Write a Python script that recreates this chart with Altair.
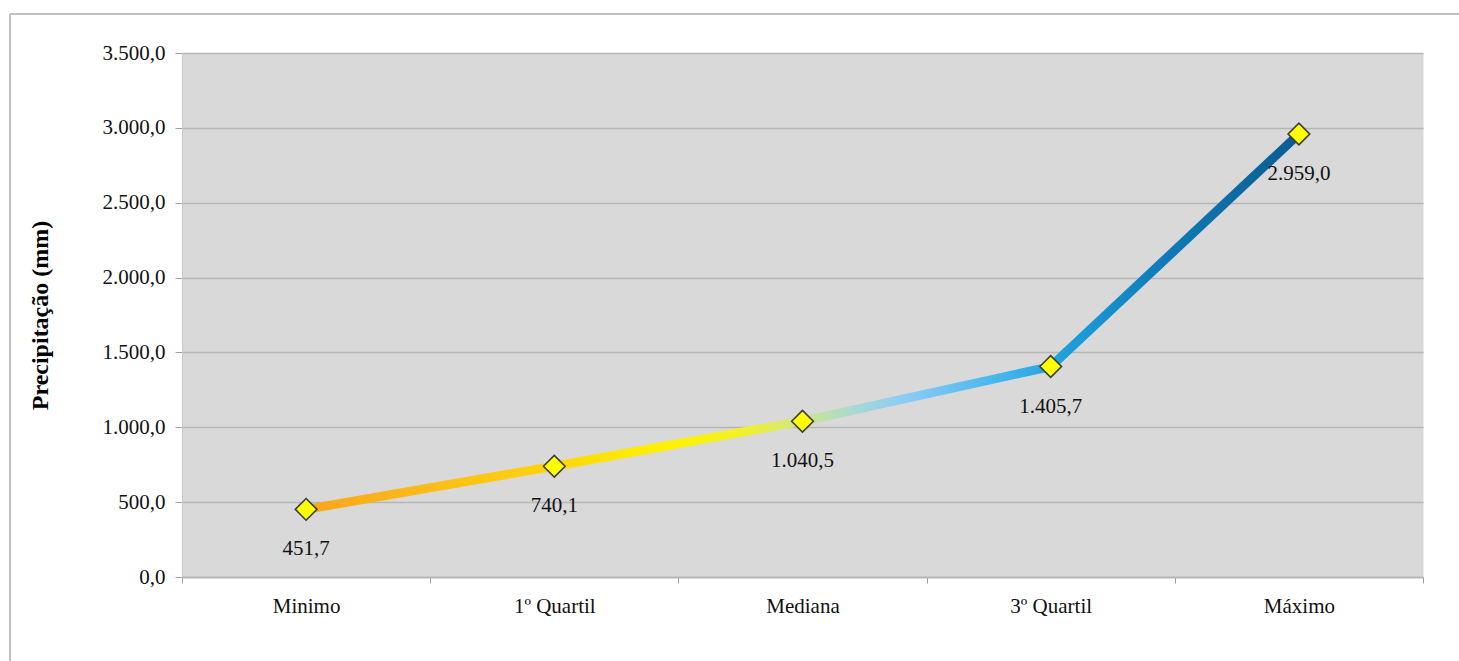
import altair as alt
import pandas as pd

categories = ["Minimo", "1º Quartil", "Mediana", "3º Quartil", "Máximo"]
values = [451.7, 740.1, 1040.5, 1405.7, 2959.0]
y_ticks = [0, 500, 1000, 1500, 2000, 2500, 3000, 3500]
y_tick_labels = ["0,0", "500,0", "1.000,0", "1.500,0", "2.000,0", "2.500,0", "3.000,0", "3.500,0"]

grad_offsets = [0.0, 0.12, 0.25, 0.36, 0.44, 0.50, 0.55, 0.60, 0.70, 0.76, 0.85, 1.0]
grad_colors = ["#f9a51c", "#fcbb1a", "#ffd60a", "#fff200", "#f2f02a", "#cfe68a", "#a9d9d2",
               "#8ccdf6", "#45b5ec", "#1ea2de", "#0f7fbb", "#0a5c91"]


def br(v):
    s = f"{v:,.1f}"
    return s.replace(",", "_").replace(".", ",").replace("_", ".")


df = pd.DataFrame({"cat": categories, "val": values, "lab": [br(v) for v in values]})

FONT = "Liberation Serif"
label_expr = "[" + ",".join(f"'{t}'" for t in y_tick_labels) + "][round(datum.value/500)]"

x_enc = alt.X(
    "cat:N",
    sort=categories,
    bandPosition=0.5,
    scale=alt.Scale(type="band", paddingInner=0, paddingOuter=0),
    axis=alt.Axis(
        title=None, labelAngle=0, tickBand="extent", tickColor="#a0a0a0", tickSize=6,
        domainColor="#b4b4b4", domainWidth=1.5, labelFont=FONT, labelFontSize=21,
        labelColor="#111111", labelPadding=12, grid=False,
    ),
)
y_enc = alt.Y(
    "val:Q",
    scale=alt.Scale(domain=[0, 3500], nice=False),
    axis=alt.Axis(
        values=y_ticks, labelExpr=label_expr, title="Precipitação (mm)",
        titleFont=FONT, titleFontWeight="bold", titleFontSize=24, titleColor="#000000",
        titleAngle=270, titleX=-142, titleY=262, titleAlign="center", titleBaseline="middle",
        grid=True, gridColor="#b6b6b6", gridWidth=1.6, tickColor="#a0a0a0", tickSize=7,
        labelPadding=10, labelFont=FONT, labelFontSize=21, labelColor="#111111",
        domainColor="#c8c8c8", domainWidth=1,
    ),
)

base = alt.Chart(df)

line = base.mark_line(
    strokeWidth=9,
    color=alt.Gradient(
        gradient="linear",
        stops=[alt.GradientStop(offset=o, color=c) for o, c in zip(grad_offsets, grad_colors)],
        x1=0, x2=1, y1=0, y2=0,
    ),
).encode(x=x_enc, y=y_enc)

points = base.mark_point(
    shape="diamond", filled=True, fill="#ffff00", stroke="#3c3c3c", strokeWidth=1.6,
    size=470, opacity=1,
).encode(x=x_enc, y=y_enc)

texts = base.mark_text(
    dy=40, font=FONT, fontSize=21, color="#111111", baseline="middle", align="center",
).encode(x=x_enc, y=y_enc, text="lab:N")

frame_df = pd.DataFrame({"k": [0]})
frame_top = alt.Chart(frame_df).mark_rule(color="#c0c0c0", strokeWidth=2, clip=False).encode(
    x=alt.value(-172), x2=alt.value(1300), y=alt.value(-39)
)
frame_left = alt.Chart(frame_df).mark_rule(color="#c0c0c0", strokeWidth=2, clip=False).encode(
    x=alt.value(-172), y=alt.value(-39), y2=alt.value(700)
)

chart = alt.layer(line, points, texts, frame_top, frame_left).properties(
    width=1241,
    height=524,
    autosize=alt.AutoSizeParams(type="none"),
    padding={"left": 182, "top": 53, "right": 36, "bottom": 84},
    background="#ffffff",
).configure_view(fill="#d9d9d9", stroke="transparent")

chart.save("out.html", embed_options={"renderer": "svg", "actions": False})
